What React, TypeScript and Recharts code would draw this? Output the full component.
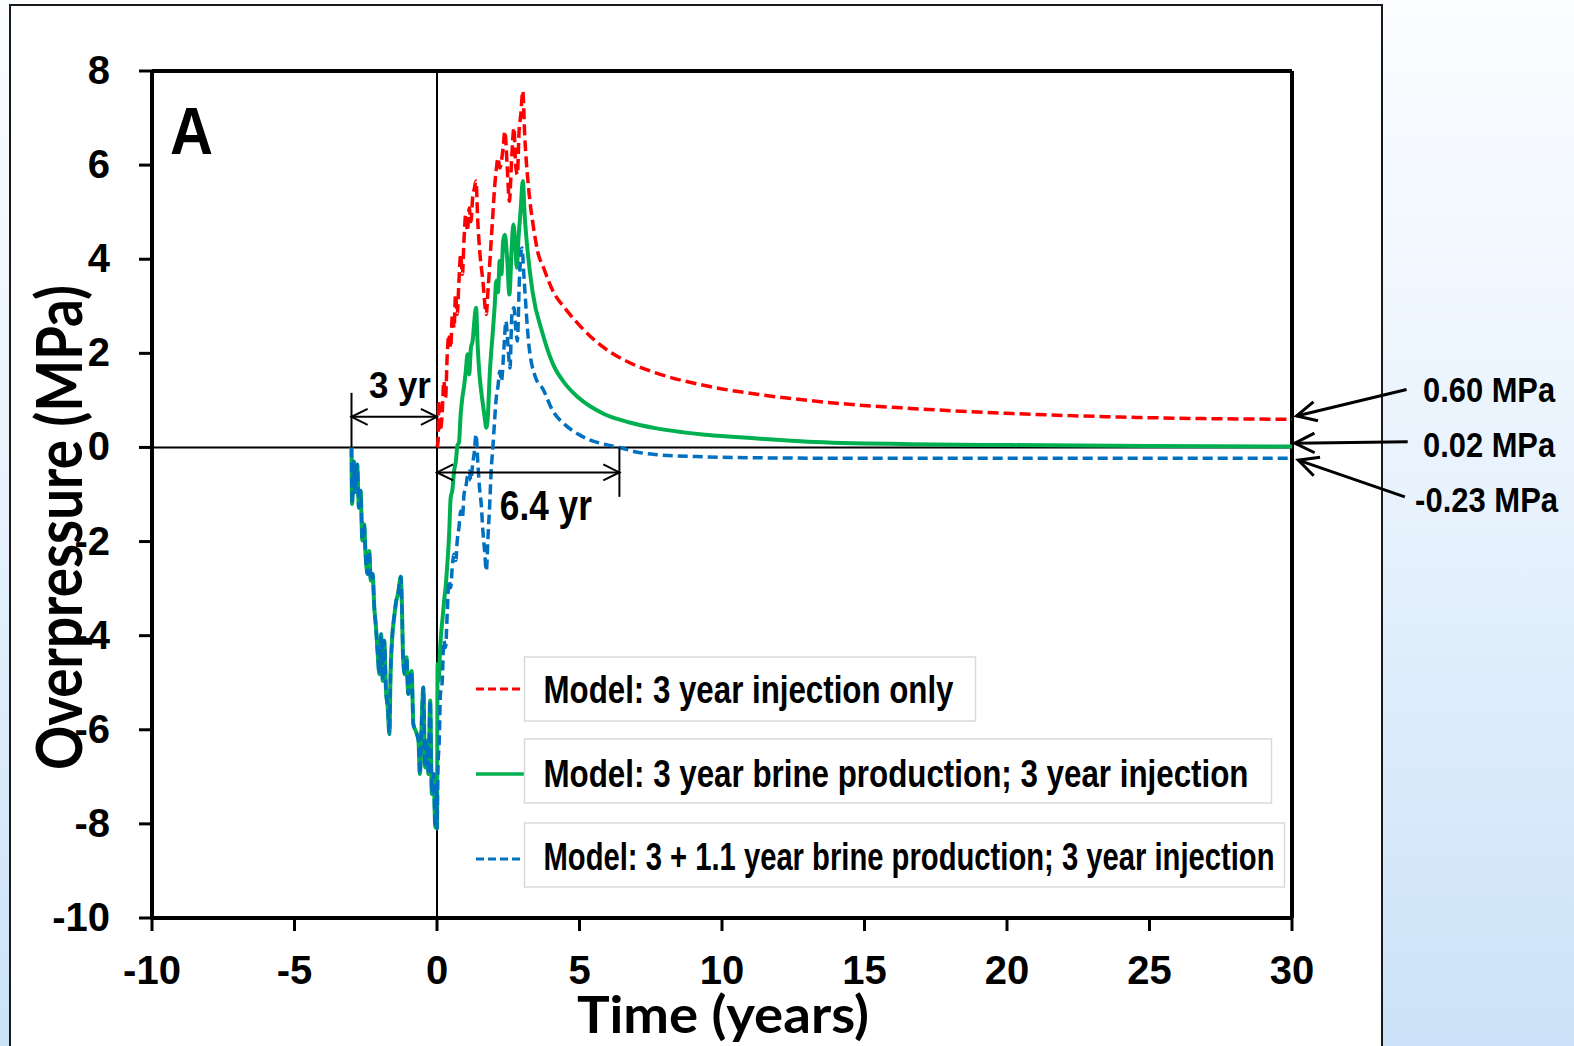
import React from 'react';
import { LineChart, Line, XAxis, YAxis, ReferenceLine, ReferenceDot, Legend } from 'recharts';

const CHART_W = 1574;
const CHART_H = 1046;

// Brine production before injection (t = -3 … 0), common to both production runs
const prodTime = [-3.0, -2.98, -2.92, -2.88, -2.8, -2.74, -2.68, -2.62, -2.56, -2.5, -2.44, -2.38, -2.32, -2.26, -2.2, -2.14, -2.08, -2.02, -1.96, -1.9, -1.85, -1.79, -1.73, -1.67, -1.63, -1.58, -1.49, -1.43, -1.37, -1.27, -1.23, -1.19, -1.13, -1.07, -1.01, -0.89, -0.83, -0.75, -0.65, -0.6, -0.54, -0.48, -0.42, -0.36, -0.3, -0.24, -0.18, -0.12, -0.06, -0.02, 0.0];
const prodPressure = [0, -1.2, -0.3, -0.95, -0.36, -1.28, -0.92, -1.98, -1.63, -2.34, -2.69, -2.2, -2.83, -2.69, -3.4, -3.83, -4.39, -4.82, -3.97, -4.96, -4.11, -5.17, -5.52, -6.09, -4.82, -4.11, -3.54, -3.26, -3.12, -2.75, -3.4, -4.46, -4.82, -4.46, -5.24, -4.75, -5.88, -6.02, -6.23, -6.94, -5.88, -5.1, -6.8, -6.23, -6.94, -5.38, -7.36, -6.94, -8.07, -7.2, -8.1];

// 3 year injection only
const injTime = [0, 0.04, 0.06, 0.1, 0.18, 0.24, 0.3, 0.36, 0.42, 0.48, 0.54, 0.6, 0.65, 0.71, 0.77, 0.83, 0.89, 0.95, 1.01, 1.07, 1.13, 1.19, 1.25, 1.31, 1.37, 1.43, 1.49, 1.61, 1.73, 1.78, 1.9, 1.96, 2.02, 2.08, 2.14, 2.2, 2.32, 2.38, 2.46, 2.54, 2.62, 2.7, 2.76, 2.82, 2.88, 2.94, 3.01, 3.08, 3.2, 3.39, 3.53, 3.75, 4.07, 4.5, 4.96, 5.86, 6.76, 7.65, 9.44, 11.23, 13.02, 14.8, 16.6, 20.2, 23.75, 27.33, 30];
const injPressure = [0, 0.14, 0.99, 0.35, 0.7, 1.41, 1.06, 1.98, 2.4, 2.12, 2.83, 2.54, 3.25, 2.83, 3.54, 4.1, 3.68, 4.45, 4.95, 4.6, 5.09, 4.8, 5.3, 5.5, 5.66, 4.81, 4.24, 3.54, 2.83, 3.25, 4.38, 4.95, 5.52, 5.9, 6.15, 5.94, 6.37, 6.72, 6.01, 5.23, 6.15, 6.79, 6.0, 5.8, 6.72, 7.07, 7.57, 6.6, 5.6, 4.66, 4.17, 3.8, 3.32, 2.95, 2.62, 2.12, 1.8, 1.59, 1.31, 1.13, 1.0, 0.9, 0.83, 0.72, 0.65, 0.61, 0.6];

// 3 year brine production, then 3 year injection (after t = 0)
const brine3Time = [0.02, 0.06, 0.1, 0.14, 0.2, 0.26, 0.3, 0.36, 0.42, 0.48, 0.54, 0.6, 0.66, 0.72, 0.77, 0.83, 0.89, 0.95, 1.01, 1.07, 1.13, 1.19, 1.25, 1.31, 1.37, 1.43, 1.49, 1.55, 1.61, 1.67, 1.73, 1.78, 1.85, 1.96, 2.02, 2.08, 2.14, 2.2, 2.26, 2.32, 2.38, 2.46, 2.54, 2.62, 2.68, 2.74, 2.8, 2.86, 2.94, 3.01, 3.08, 3.18, 3.35, 3.71, 4.07, 4.5, 4.96, 5.86, 6.76, 7.65, 9.44, 11.23, 13.02, 16.6, 20.2, 25, 30];
const brine3Pressure = [-4.6, -4.96, -4.4, -4.0, -3.6, -3.2, -2.98, -2.5, -1.92, -1.07, -0.9, -0.5, -0.3, 0.05, 0.1, 0.7, 1.06, 1.3, 1.62, 1.98, 1.55, 2.12, 2.26, 2.69, 2.97, 2.12, 1.55, 1.2, 0.92, 0.65, 0.42, 0.63, 1.55, 2.47, 2.97, 3.54, 3.3, 3.96, 3.68, 4.38, 4.52, 4.03, 3.25, 4.24, 4.74, 4.38, 3.82, 4.45, 5.09, 5.66, 4.9, 4.17, 3.32, 2.41, 1.77, 1.35, 1.06, 0.71, 0.53, 0.41, 0.27, 0.19, 0.12, 0.07, 0.05, 0.03, 0.02];

// 3 + 1.1 year brine production, 3 year injection (after t = 0)
const brine41Time = [0.03, 0.08, 0.12, 0.18, 0.24, 0.3, 0.36, 0.42, 0.48, 0.54, 0.6, 0.66, 0.71, 0.77, 0.83, 0.89, 0.95, 1.01, 1.07, 1.13, 1.19, 1.25, 1.31, 1.37, 1.43, 1.49, 1.55, 1.61, 1.67, 1.73, 1.79, 1.85, 1.9, 1.96, 2.02, 2.08, 2.14, 2.2, 2.26, 2.35, 2.42, 2.48, 2.56, 2.63, 2.7, 2.76, 2.82, 2.89, 2.98, 3.06, 3.21, 3.45, 3.71, 4.07, 4.5, 4.96, 5.4, 5.86, 6.4, 6.94, 7.65, 9.44, 11.23, 15, 20, 25, 30];
const brine41Pressure = [-6.9, -6.2, -5.24, -5.0, -4.11, -4.25, -3.5, -2.83, -2.98, -2.5, -2.27, -2.4, -1.98, -1.7, -1.35, -1.5, -0.99, -0.85, -0.6, -0.5, -0.7, -0.36, -0.1, 0.28, -0.3, -0.85, -1.2, -1.77, -2.2, -2.62, -1.9, -1.2, -0.5, 0, 0.56, 1.06, 1.3, 1.62, 1.41, 2.12, 2.69, 2.26, 1.69, 2.83, 2.97, 2.54, 2.26, 3.54, 4.24, 3.54, 2.26, 1.5, 1.25, 0.77, 0.48, 0.28, 0.15, 0.07, 0, -0.09, -0.15, -0.2, -0.22, -0.23, -0.23, -0.23, -0.23];

const xTicks = [-10, -5, 0, 5, 10, 15, 20, 25, 30];
const yTicks = [-10, -8, -6, -4, -2, 0, 2, 4, 6, 8];

const seriesNames = [
  'Model: 3 year injection only',
  'Model: 3 year brine production; 3 year injection',
  'Model: 3 + 1.1 year brine production; 3 year injection',
];

const zip = (ts: number[], ps: number[]) =>
  ts.slice(0, Math.min(ts.length, ps.length)).map((t, i) => ({ t, p: ps[i] }));

const injOnly = zip(injTime, injPressure);
const brine3 = [...zip(prodTime, prodPressure), ...zip(brine3Time, brine3Pressure)];
const brine41 = [...zip(prodTime, prodPressure), ...zip(brine41Time, brine41Pressure)];

const last = (a: number[]) => a[a.length - 1];
const finalValues = [last(injPressure), last(brine3Pressure), last(brine41Pressure)];

const TICK_FONT = '"Liberation Sans", Arial, Helvetica, sans-serif';
const NARROW_FONT = '"Liberation Sans Narrow", "Arial Narrow", "Liberation Sans", Arial, sans-serif';
const TITLE_FONT = 'Lato, "Open Sans", "Liberation Sans", sans-serif';

const SERIES = [
  { key: 'inj', data: injOnly, color: '#ff0000', width: 3.5, dash: '11 5', legendDash: '8 4' },
  { key: 'b3', data: brine3, color: '#00b050', width: 4, dash: undefined, legendDash: undefined },
  { key: 'b41', data: brine41, color: '#0070c0', width: 3.5, dash: '10 5', legendDash: '8 4' },
];

const LEGEND_ROWS = [
  { top: 7, h: 64, w: 451, lineY: 39, base: 53, len: 410 },
  { top: 89, h: 64, w: 747, lineY: 124, base: 137, len: 705 },
  { top: 173, h: 64, w: 760, lineY: 209, base: 220, len: 731 },
];

const LegendBoxes = () => (
  <svg width={830} height={250} style={{ overflow: 'visible', display: 'block' }}>
    {SERIES.map((s, i) => {
      const r = LEGEND_ROWS[i];
      return (
        <g key={s.key}>
          <line x1={6} x2={54} y1={r.lineY} y2={r.lineY} stroke={s.color} strokeWidth={s.key === 'b3' ? 3.5 : 3} strokeDasharray={s.legendDash} />
          <rect x={54.5} y={r.top} width={r.w} height={r.h} fill="#ffffff" stroke="#d9d9d9" strokeWidth={1.5} />
          <text x={73.5} y={r.base} fontFamily={NARROW_FONT} fontWeight={700} fontSize={39} fill="#000" textLength={r.len} lengthAdjust="spacingAndGlyphs">
            {seriesNames[i]}
          </text>
        </g>
      );
    })}
  </svg>
);

const XTick = (props: any) => {
  const { x, y, payload } = props;
  return (
    <text x={x} y={y + 53} textAnchor="middle" fontFamily={TICK_FONT} fontWeight={700} fontSize={40} fill="#000">
      {payload.value}
    </text>
  );
};

const YTick = (props: any) => {
  const { x, y, payload } = props;
  return (
    <text x={x - 29} y={y + 13} textAnchor="end" fontFamily={TICK_FONT} fontWeight={700} fontSize={40} fill="#000">
      {payload.value}
    </text>
  );
};

const yTitle = (p: any) => {
  const vb = p.viewBox || {};
  const cx = (vb.x ?? 52) + 30;
  const cy = (vb.y ?? 71) + (vb.height ?? 847) / 2 + 33;
  return (
    <text x={cx} y={cy} transform={`rotate(-90, ${cx}, ${cy})`} textAnchor="middle" fontFamily={TITLE_FONT} fontWeight={700} fontSize={64} fill="#000" textLength={485} lengthAdjust="spacingAndGlyphs">
      Overpressure (MPa)
    </text>
  );
};

const xTitle = (p: any) => {
  const vb = p.viewBox || {};
  const cx = (vb.x ?? 152) + (vb.width ?? 1140) / 2 + 1;
  const cy = (vb.y ?? 918) + 115;
  return (
    <text x={cx} y={cy} textAnchor="middle" fontFamily={TITLE_FONT} fontWeight={700} fontSize={51} fill="#000" textLength={292} lengthAdjust="spacingAndGlyphs">
      Time (years)
    </text>
  );
};

// Arrow drawn along a reference segment, with open chevron heads
const arrowShape = (both: boolean, head: number, sw: number) => (p: any) => {
  const { x1, y1, x2, y2 } = p;
  const a = Math.atan2(y2 - y1, x2 - x1);
  const s = 0.46;
  const chevron = (x: number, y: number, ang: number) =>
    `${x - head * Math.cos(ang - s)},${y - head * Math.sin(ang - s)} ${x},${y} ${x - head * Math.cos(ang + s)},${y - head * Math.sin(ang + s)}`;
  return (
    <g>
      <line x1={x1} y1={y1} x2={x2} y2={y2} stroke="#000" strokeWidth={sw} />
      <polyline points={chevron(x2, y2, a)} fill="none" stroke="#000" strokeWidth={sw} />
      {both && <polyline points={chevron(x1, y1, a + Math.PI)} fill="none" stroke="#000" strokeWidth={sw} />}
    </g>
  );
};

const ARROWS = [
  { from: { x: -3, y: 0.65 }, to: { x: 0, y: 0.65 }, both: true, head: 18, sw: 2 },
  { from: { x: 0, y: -0.53 }, to: { x: 6.4, y: -0.53 }, both: true, head: 18, sw: 2 },
  { from: { x: 34.02, y: 1.23 }, to: { x: 30.16, y: 0.67 }, both: false, head: 22, sw: 3 },
  { from: { x: 34.06, y: 0.12 }, to: { x: 30.1, y: 0.09 }, both: false, head: 22, sw: 3 },
  { from: { x: 33.96, y: -1.05 }, to: { x: 30.22, y: -0.27 }, both: false, head: 22, sw: 3 },
];

const SPAN_MARKS = [
  { from: { x: -3, y: 0 }, to: { x: -3, y: 1.16 } },
  { from: { x: 6.4, y: 0 }, to: { x: 6.4, y: -1.05 } },
];

const ANNOTATIONS = [
  { text: '3 yr', x: -1.3, y: 1.05, anchor: 'middle', size: 37, len: 62, font: NARROW_FONT },
  { text: '6.4 yr', x: 3.82, y: -1.54, anchor: 'middle', size: 42, len: 92, font: NARROW_FONT },
  { text: 'A', x: -8.61, y: 6.23, anchor: 'middle', size: 66, len: 43, font: TICK_FONT },
  { text: `${finalValues[0].toFixed(2)} MPa`, x: 34.6, y: 0.97, anchor: 'start', size: 35, len: 132, font: NARROW_FONT },
  { text: `${finalValues[1].toFixed(2)} MPa`, x: 34.6, y: -0.2, anchor: 'start', size: 35, len: 132, font: NARROW_FONT },
  { text: `${finalValues[2].toFixed(2)} MPa`, x: 34.32, y: -1.37, anchor: 'start', size: 35, len: 143, font: NARROW_FONT },
];

const textLabel = (a: (typeof ANNOTATIONS)[number]) => (p: any) => {
  const vb = p.viewBox || {};
  const x = (vb.x ?? p.cx ?? 0) + (vb.width ?? 0) / 2;
  const y = (vb.y ?? p.cy ?? 0) + (vb.height ?? 0) / 2;
  return (
    <text x={x} y={y} textAnchor={a.anchor as any} fontFamily={a.font} fontWeight={700} fontSize={a.size} fill="#000" textLength={a.len} lengthAdjust="spacingAndGlyphs">
      {a.text}
    </text>
  );
};

export default function App() {
  return (
    <div
      style={{
        position: 'absolute',
        left: 0,
        top: 0,
        width: CHART_W,
        height: CHART_H,
        overflow: 'hidden',
        background: 'linear-gradient(180deg, #fbfdff 0%, #e9f3fd 45%, #cbe2f8 100%)',
      }}
    >
      <div
        style={{
          position: 'absolute',
          left: 9,
          top: 4,
          width: 1374,
          height: 1100,
          boxSizing: 'border-box',
          border: '2.5px solid #1a1a1a',
          background: '#ffffff',
        }}
      />
      <div style={{ position: 'absolute', left: 0, top: 0 }}>
        <LineChart width={CHART_W} height={CHART_H} margin={{ top: 71, right: 282, bottom: 58, left: 52 }}>
          <XAxis
            dataKey="t"
            type="number"
            domain={[-10, 30]}
            ticks={xTicks}
            allowDataOverflow
            height={70}
            tickSize={13}
            tickMargin={0}
            axisLine={{ stroke: '#000', strokeWidth: 4 }}
            tickLine={{ stroke: '#000', strokeWidth: 3 }}
            tick={<XTick />}
            label={xTitle}
          />
          <YAxis
            type="number"
            domain={[-10, 8]}
            ticks={yTicks}
            allowDataOverflow
            width={100}
            tickSize={13}
            tickMargin={0}
            axisLine={{ stroke: '#000', strokeWidth: 4 }}
            tickLine={{ stroke: '#000', strokeWidth: 3 }}
            tick={<YTick />}
            label={yTitle}
          />
          <ReferenceLine y={8} stroke="#000" strokeWidth={4} />
          <ReferenceLine x={30} stroke="#000" strokeWidth={4} />
          <ReferenceLine y={0} stroke="#000" strokeWidth={2} />
          <ReferenceLine x={0} stroke="#000" strokeWidth={2} />
          {SERIES.map((s) => (
            <Line
              key={s.key}
              data={s.data}
              dataKey="p"
              type="monotoneX"
              stroke={s.color}
              strokeWidth={s.width}
              strokeDasharray={s.dash}
              strokeLinejoin="round"
              dot={false}
              activeDot={false}
              isAnimationActive={false}
            />
          ))}
          {SPAN_MARKS.map((m, i) => (
            <ReferenceLine key={`m${i}`} segment={[m.from, m.to]} stroke="#000" strokeWidth={2} ifOverflow="visible" />
          ))}
          {ARROWS.map((a, i) => (
            <ReferenceLine
              key={`a${i}`}
              segment={[a.from, a.to]}
              ifOverflow="visible"
              stroke="#000"
              strokeWidth={a.sw}
              shape={arrowShape(a.both, a.head, a.sw)}
            />
          ))}
          {ANNOTATIONS.map((a, i) => (
            <ReferenceDot key={`t${i}`} x={a.x} y={a.y} r={0} fill="none" stroke="none" ifOverflow="visible" label={textLabel(a)} />
          ))}
          <Legend
            layout="horizontal"
            verticalAlign="middle"
            align="center"
            content={() => <LegendBoxes />}
            wrapperStyle={{ position: 'absolute', left: 470, top: 650, width: 830, height: 250, bottom: 'auto', right: 'auto' }}
          />
        </LineChart>
      </div>
    </div>
  );
}
